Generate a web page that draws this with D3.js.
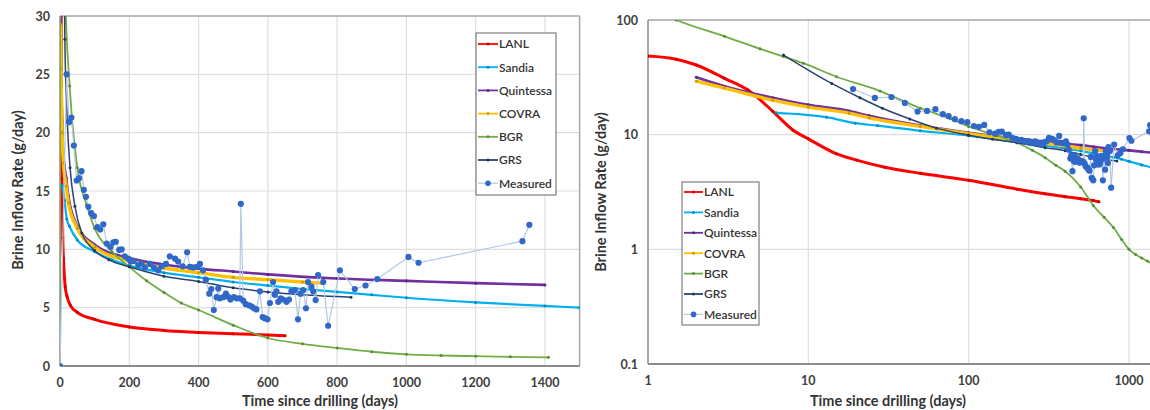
<!DOCTYPE html>
<html>
<head>
<meta charset="utf-8">
<script src="https://cdn.jsdelivr.net/npm/d3@7"></script>
<style>
  html, body { margin: 0; padding: 0; background: #fff; }
  svg { display: block; font-family: Lato, "Open Sans", sans-serif; }
</style>
</head>
<body>
<svg id="chart" width="1150" height="410"></svg>
<script>
// Brine inflow rate: model predictions vs. measured data ([days, g/day])
const lanl = [[1,48.5],[1.5,45.5],[2,40.5],[3,31],[4.2,24.5],[6,16],[8,11],[10,9.2],[15,6.8],[20,6.0],[30,5.2],[50,4.6],[100,4.0],[200,3.35],[300,3.05],[400,2.88],[500,2.76],[600,2.66],[650,2.6]];
const sandia = [[6.3,15.5],[13,14.2],[19.6,12.6],[27,12.0],[50,10.8],[100,9.8],[150,9.1],[200,8.6],[300,8.0],[400,7.6],[500,7.2],[600,6.9],[700,6.6],[800,6.35],[900,6.1],[1000,5.85],[1200,5.45],[1400,5.15],[1500,5.0]];
const quintessa = [[2,31.7],[3,26.5],[6,21],[10,18.2],[18,16.1],[24,14.6],[50,12.0],[100,10.4],[200,9.25],[300,8.7],[400,8.35],[500,8.1],[600,7.85],[800,7.5],[1000,7.3],[1200,7.1],[1400,6.95]];
const covra = [[2,29.3],[3,25.5],[6,20],[10,17.4],[18,15.4],[24,14.0],[50,11.8],[100,10.2],[200,9.0],[300,8.4],[400,8.0],[500,7.6],[600,7.4],[700,7.2],[757,7.1]];
const bgr = [[0,0],[1,130],[1.5,100],[3,72],[5,56],[7,48],[9.3,42],[15,32],[28,24],[50,17],[77,13.8],[100,11.8],[150,9.8],[200,8.5],[250,7.3],[300,6.3],[350,5.4],[400,4.8],[500,3.5],[600,2.4],[700,1.9],[800,1.55],[900,1.22],[1000,1.0],[1100,0.9],[1200,0.84],[1300,0.79],[1410,0.74]];
const grs = [[7,49.5],[14,28],[21,21],[29,17],[43,13.7],[63,11.4],[100,9.9],[141,9.1],[200,8.5],[300,7.7],[400,7.25],[500,6.7],[600,6.35],[700,6.1],[840,5.9]];
const measured = [[0,0],[19,25],[26,20.9],[33,21.3],[40,18.9],[48,15.9],[55,16.1],[62,16.7],[69,15.1],[75,14.5],[82,13.65],[90,13.1],[98,12.85],[108,11.9],[116,11.7],[125,12.15],[135,10.5],[146,10.2],[154,10.6],[161,10.65],[171,9.95],[178,10.0],[187,9.4],[197,9.2],[204,8.95],[213,9.0],[226,8.65],[235,8.8],[245,8.45],[260,8.75],[271,8.45],[284,8.2],[293,8.55],[306,8.75],[317,9.4],[332,9.2],[341,8.95],[354,8.55],[367,9.75],[375,8.5],[385,8.45],[396,8.5],[404,8.75],[413,8.2],[421,7.4],[431,6.2],[437,6.6],[444,4.8],[452,5.9],[457,6.65],[461,5.8],[471,5.9],[479,6.2],[485,5.95],[492,5.7],[502,5.9],[510,5.8],[519,5.8],[522,13.9],[529,5.6],[536,5.3],[546,5.2],[553,5.1],[560,4.95],[567,4.85],[577,6.4],[585,4.2],[591,4.1],[599,4.0],[606,5.4],[615,7.2],[620,6.1],[625,6.4],[630,5.5],[637,5.8],[644,5.7],[654,5.5],[661,5.7],[668,6.4],[678,6.5],[687,4.0],[694,6.2],[702,6.5],[710,4.95],[716,7.2],[726,6.8],[731,6.4],[738,5.65],[745,7.8],[760,7.2],[774,3.45],[808,8.2],[851,6.6],[882,6.9],[916,7.45],[1006,9.35],[1035,8.85],[1335,10.7],[1355,12.1]];

const seriesNames = ["LANL","Sandia","Quintessa","COVRA","BGR","GRS","Measured"];
const seriesColors = ["#ff0000","#00b0f0","#7030a0","#ffc000","#70ad47","#2a4372","#2f68c8"];

const linearXTicks = [0,200,400,600,800,1000,1200,1400];
const linearYTicks = [0,5,10,15,20,25,30];
const logXTicks = [1,10,100,1000];
const logYTicks = [0.1,1,10,100];

const modelData = [lanl, sandia, quintessa, covra, bgr, grs];
const lineWidths = [3, 2.2, 2.6, 3.4, 1.8, 1.5];

const svg = d3.select("#chart");
svg.append("rect").attr("width",1150).attr("height",410).attr("fill","#fff");

function drawPanel(cfg) {
  const { id, x, y, xTicks, yTicks, xFmt, yFmt, clipRight, legend, titleX, titleY } = cfg;
  const g = svg.append("g");
  const [x0, x1] = x.range();
  const [y0, y1] = y.range();   // y0 bottom, y1 top
  const right = Math.min(x1, clipRight);

  g.append("clipPath").attr("id", id).append("rect")
    .attr("x", x0).attr("y", y1).attr("width", right - x0).attr("height", y0 - y1);

  // gridlines
  g.append("g").selectAll("line").data(xTicks.slice(1))
    .join("line")
    .attr("x1", d => x(d)).attr("x2", d => x(d))
    .attr("y1", y1).attr("y2", y0)
    .attr("stroke", "#dedede").attr("stroke-width", 1.2);
  g.append("g").selectAll("line").data(yTicks.slice(1, -1))
    .join("line")
    .attr("x1", x0).attr("x2", right)
    .attr("y1", d => y(d)).attr("y2", d => y(d))
    .attr("stroke", "#dedede").attr("stroke-width", 1.2);

  // plot frame
  g.append("line").attr("x1", x0).attr("x2", right).attr("y1", y1).attr("y2", y1)
    .attr("stroke", "#a6a6a6").attr("stroke-width", 1.5);
  if (x1 <= clipRight) {
    g.append("line").attr("x1", x1).attr("x2", x1).attr("y1", y1).attr("y2", y0)
      .attr("stroke", "#a6a6a6").attr("stroke-width", 1.5);
  }
  g.append("line").attr("x1", x0).attr("x2", x0).attr("y1", y1).attr("y2", y0)
    .attr("stroke", "#8c8c8c").attr("stroke-width", 1.5);
  g.append("line").attr("x1", x0).attr("x2", right).attr("y1", y0).attr("y2", y0)
    .attr("stroke", "#8c8c8c").attr("stroke-width", 1.8);

  // tick labels
  g.append("g").selectAll("text").data(xTicks).join("text")
    .attr("x", d => x(d)).attr("y", y0 + 21)
    .attr("text-anchor", "middle")
    .attr("font-size", 12.5).attr("font-weight", 700).attr("fill", "#404040")
    .text(xFmt);
  g.append("g").selectAll("text").data(yTicks).join("text")
    .attr("x", x0 - 10).attr("y", d => y(d) + 4.5)
    .attr("text-anchor", "end")
    .attr("font-size", 12.5).attr("font-weight", 700).attr("fill", "#404040")
    .text(yFmt);

  // axis titles
  g.append("text").attr("x", titleX).attr("y", 406)
    .attr("text-anchor", "middle").attr("font-size", 14.5).attr("font-weight", 700)
    .attr("fill", "#333").text("Time since drilling (days)");
  g.append("text").attr("transform", `translate(${titleY[0]},${titleY[1]}) rotate(-90)`)
    .attr("text-anchor", "middle").attr("font-size", 14.5).attr("font-weight", 700)
    .attr("fill", "#333").text("Brine Inflow Rate (g/day)");

  // series
  const plot = g.append("g").attr("clip-path", `url(#${id})`);
  const valid = d => cfg.log ? (d[0] > 0 && d[1] > 0) : true;
  const line = d3.line().x(d => x(d[0])).y(d => y(d[1])).curve(d3.curveMonotoneX);

  modelData.forEach((data, i) => {
    const pts = data.filter(valid);
    plot.append("path").datum(pts)
      .attr("fill", "none").attr("stroke", seriesColors[i])
      .attr("stroke-width", lineWidths[i]).attr("stroke-linejoin", "round")
      .attr("d", line);
    plot.append("g").selectAll("circle").data(pts).join("circle")
      .attr("cx", d => x(d[0])).attr("cy", d => y(d[1])).attr("r", 1.5)
      .attr("fill", d3.color(seriesColors[i]).darker(0.6));
  });

  const mpts = measured.filter(valid);
  plot.append("path").datum(mpts)
    .attr("fill", "none").attr("stroke", "#b4c7e7").attr("stroke-width", 1.2)
    .attr("d", d3.line().x(d => x(d[0])).y(d => y(d[1])));
  plot.append("g").selectAll("circle").data(mpts).join("circle")
    .attr("cx", d => x(d[0])).attr("cy", d => y(d[1])).attr("r", 3.1)
    .attr("fill", seriesColors[6]);

  // legend
  const L = legend;
  const lg = g.append("g");
  lg.append("rect").attr("x", L.x).attr("y", L.y).attr("width", L.w).attr("height", L.h)
    .attr("fill", "#fff").attr("stroke", "#7f7f7f").attr("stroke-width", 1.2);
  const items = lg.selectAll("g.item").data(seriesNames).join("g")
    .attr("transform", (d, i) => `translate(${L.x + 2},${L.y + L.first + i * L.step})`);
  items.append("line").attr("x1", 0).attr("x2", L.sw).attr("y1", 0).attr("y2", 0)
    .attr("stroke", (d, i) => i === 6 ? "#b4c7e7" : seriesColors[i])
    .attr("stroke-width", (d, i) => i === 6 ? 1.2 : 1.8);
  items.append("circle").attr("cx", L.sw / 2).attr("cy", 0)
    .attr("r", (d, i) => i === 6 ? 2.8 : 1.5)
    .attr("fill", (d, i) => i === 6 ? seriesColors[6] : d3.color(seriesColors[i]).darker(0.6));
  items.append("text").attr("x", L.sw + 1).attr("y", 4.3)
    .attr("font-size", 12).attr("fill", "#333").attr("font-weight", 600)
    .text(d => d);
}

// Linear panel
drawPanel({
  id: "clipLinear",
  x: d3.scaleLinear().domain([0, 1500]).range([60, 579.6]),
  y: d3.scaleLinear().domain([0, 30]).range([366, 16]),
  xTicks: linearXTicks, yTicks: linearYTicks,
  xFmt: d => d, yFmt: d => d,
  clipRight: 1150, log: false,
  legend: { x: 476, y: 33, w: 80, h: 162, first: 11, step: 23.2, sw: 20 },
  titleX: 320, titleY: [23, 190]
});

// Log-log panel
drawPanel({
  id: "clipLog",
  x: d3.scaleLog().domain([1, Math.pow(10, 3.2)]).range([648, 648 + 3.2 * 160.33]),
  y: d3.scaleLog().domain([0.1, 100]).range([364, 20]),
  xTicks: logXTicks, yTicks: logYTicks,
  xFmt: d => d, yFmt: d => d,
  clipRight: 1150, log: true,
  legend: { x: 682, y: 182, w: 77, h: 143, first: 10, step: 20.4, sw: 19 },
  titleX: 888, titleY: [606, 192]
});
</script>
</body>
</html>
